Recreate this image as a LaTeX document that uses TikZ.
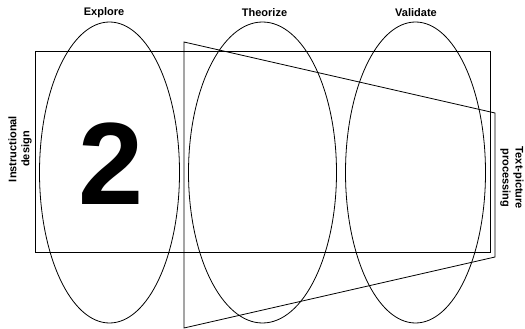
\documentclass[tikz,border=0pt]{standalone}
\usepackage{fontspec}
\setmainfont{Liberation Sans}
\usetikzlibrary{shapes.geometric}
\begin{document}
\begin{tikzpicture}[x=1pt,y=-1pt,line width=0.8pt,
  lbl/.style={font=\bfseries\fontsize{11}{13}\selectfont,align=center,inner sep=0pt},
  phase/.style={draw,ellipse,minimum width=140pt,minimum height=301pt,inner sep=0pt},
  frame/.style={draw,rectangle,minimum width=455pt,minimum height=201pt,inner sep=0pt}]
\useasboundingbox (0,0) rectangle (525,329);
% rectangle
\node[frame] (design) at (262.5,151.5) {};
% trapezoid
\coordinate (t1) at (184,42);
\coordinate (t2) at (495,113);
\coordinate (t3) at (495,257);
\coordinate (t4) at (184,328);
\draw (t1) -- (t2) -- (t3) -- (t4) -- cycle;
% ellipses
\node[phase] (explore) at (109.5,172.5) {};
\node[phase,minimum width=148pt] (theorize) at (262.5,172.5) {};
\node[phase] (validate) at (415.5,172.5) {};
% labels
\node[lbl] (lexplore) at (104,13) {Explore};
\node[lbl] (ltheorize) at (264.5,13) {Theorize};
\node[lbl] (lvalidate) at (416,13) {Validate};
\node[lbl,rotate=90] (ldesign) at (20,149) {Instructional\\design};
\node[lbl,rotate=-90] (lprocess) at (512,178) {Text-picture\\processing};
% big number
\node[inner sep=0pt,font=\bfseries\fontsize{117}{117}\selectfont] (two) at (111.5,163.5) {2};
\end{tikzpicture}
\end{document}
